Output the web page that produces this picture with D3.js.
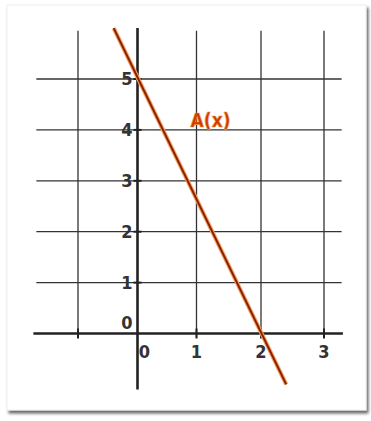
<!DOCTYPE html>
<html>
<head>
<meta charset="utf-8">
<script src="https://cdn.jsdelivr.net/npm/d3@7"></script>
<style>
  body { margin: 0; background: #ffffff; }
  svg { display: block; }
</style>
</head>
<body>
<svg id="chart" width="371" height="421"></svg>
<script>
// grid + tick values
let gridX = [-1, 0, 1, 2, 3];
let gridY = [1, 2, 3, 4, 5];
let xTickLabels = [0, 1, 2, 3];
let yTickLabels = [0, 1, 2, 3, 4, 5];

// A(x) = 5 - 2.5x, drawn between these two points
let lineX = [-0.4, 2.4];
let lineY = [6, -1];
let lineName = "A(x)";

let svg = d3.select("#chart");
let font = "'Liberation Sans Narrow', 'DejaVu Sans Condensed', sans-serif";

// the drawing is hand made so x spacing is a bit uneven
let x = d3.scaleLinear().domain([-1, 0, 1, 2, 3]).range([78, 137.5, 196.5, 261, 324]);
let y = d3.scaleLinear().domain([0, 5]).range([333.5, 79]);

// card with shadow
let defs = svg.append("defs");
let f = defs.append("filter").attr("id", "shadow")
  .attr("x", "-5%").attr("y", "-5%").attr("width", "115%").attr("height", "115%");
f.append("feDropShadow")
  .attr("dx", 2).attr("dy", 3).attr("stdDeviation", 1.6)
  .attr("flood-color", "#000").attr("flood-opacity", 0.6);

svg.append("rect")
  .attr("x", 7).attr("y", 5)
  .attr("width", 359).attr("height", 405)
  .attr("fill", "#ffffff")
  .attr("stroke", "#eeeeee")
  .attr("filter", "url(#shadow)");

let g = svg.append("g");

// vertical grid lines
g.selectAll(".vgrid")
  .data(gridX.filter(function(d){ return d != 0; }))
  .enter().append("line")
  .attr("class", "vgrid")
  .attr("x1", function(d){ return x(d); })
  .attr("x2", function(d){ return x(d); })
  .attr("y1", y(5.95))
  .attr("y2", y(-0.08))
  .attr("stroke", "#333")
  .attr("stroke-width", 1.3);

// horizontal grid lines
g.selectAll(".hgrid")
  .data(gridY)
  .enter().append("line")
  .attr("class", "hgrid")
  .attr("x1", x(-1.7))
  .attr("x2", x(3.28))
  .attr("y1", function(d){ return y(d); })
  .attr("y2", function(d){ return y(d); })
  .attr("stroke", "#333")
  .attr("stroke-width", 1.3);

// axes
g.append("line")
  .attr("x1", x(-1.75)).attr("x2", x(3.3))
  .attr("y1", y(0)).attr("y2", y(0))
  .attr("stroke", "#222").attr("stroke-width", 2.6);

g.append("line")
  .attr("x1", x(0)).attr("x2", x(0))
  .attr("y1", y(6)).attr("y2", y(-1.1))
  .attr("stroke", "#222").attr("stroke-width", 2.6);

// little tick marks on the x axis
g.selectAll(".xtick")
  .data(gridX.filter(function(d){ return d != 0; }))
  .enter().append("line")
  .attr("x1", function(d){ return x(d); })
  .attr("x2", function(d){ return x(d); })
  .attr("y1", y(0) - 5)
  .attr("y2", y(0) + 5)
  .attr("stroke", "#222").attr("stroke-width", 2);

// little tick marks on the y axis
g.selectAll(".ytick")
  .data(gridY)
  .enter().append("line")
  .attr("x1", x(0) - 4)
  .attr("x2", x(0) + 4)
  .attr("y1", function(d){ return y(d); })
  .attr("y2", function(d){ return y(d); })
  .attr("stroke", "#222").attr("stroke-width", 2);

// tick labels
g.selectAll(".xlabel")
  .data(xTickLabels)
  .enter().append("text")
  .attr("x", function(d){ return d == 0 ? x(d) + 7 : x(d); })
  .attr("y", y(0) + 24)
  .attr("text-anchor", "middle")
  .attr("font-family", font)
  .attr("font-weight", "bold")
  .attr("font-size", 18)
  .attr("fill", "#333")
  .text(function(d){ return d; });

g.selectAll(".ylabel")
  .data(yTickLabels)
  .enter().append("text")
  .attr("x", x(0) - 5)
  .attr("y", function(d){ return d == 0 ? y(d) - 5 : y(d) + 6; })
  .attr("text-anchor", "end")
  .attr("font-family", font)
  .attr("font-weight", "bold")
  .attr("font-size", 18)
  .attr("fill", "#333")
  .text(function(d){ return d; });

// the function line: orange glow under a dark red core
let pts = lineX.map(function(d, i){ return [x(d), y(lineY[i])]; });
let lineGen = d3.line();

g.append("path")
  .attr("d", lineGen(pts))
  .attr("fill", "none")
  .attr("stroke", "#f0a060")
  .attr("stroke-width", 4.2);

g.append("path")
  .attr("d", lineGen(pts))
  .attr("fill", "none")
  .attr("stroke", "#8c1e00")
  .attr("stroke-width", 2);

// label
g.append("text")
  .attr("x", x(0.9))
  .attr("y", y(4.2) + 7)
  .attr("font-family", font)
  .attr("font-weight", "bold")
  .attr("font-size", 19)
  .attr("fill", "#cc3a00")
  .attr("stroke", "#f09040")
  .attr("stroke-width", 0.6)
  .text(lineName);
</script>
</body>
</html>
